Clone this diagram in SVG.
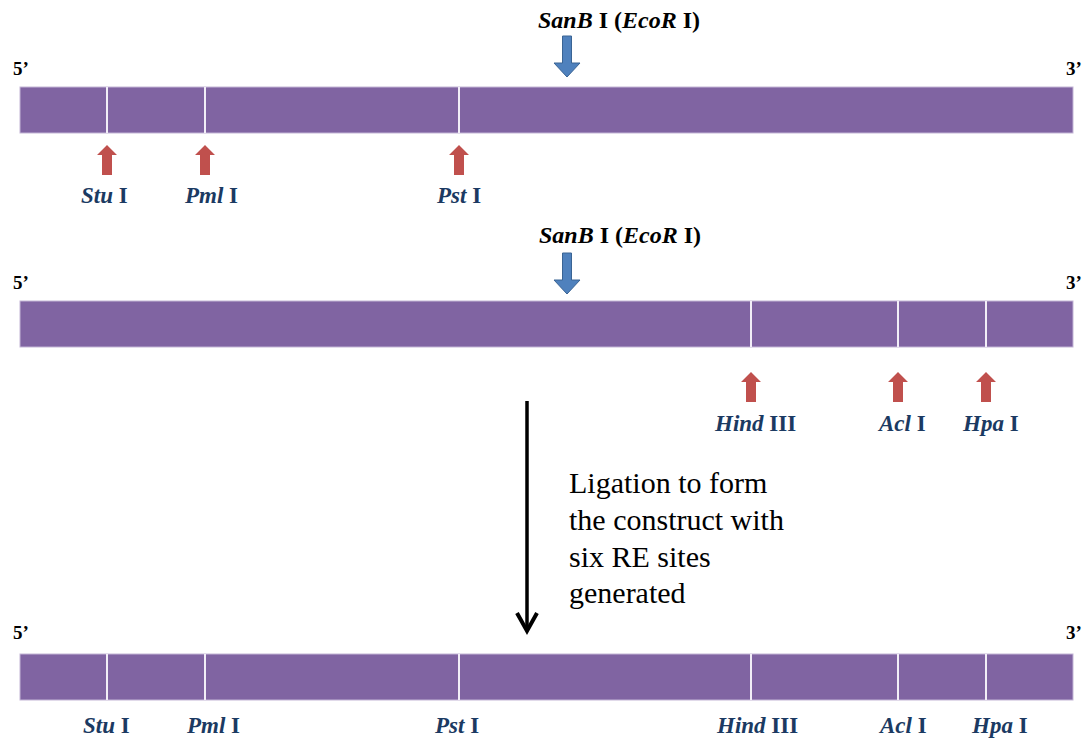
<svg xmlns="http://www.w3.org/2000/svg" width="1088" height="738" viewBox="0 0 1088 738" font-family="'Liberation Serif', 'DejaVu Serif', serif">
  <style>
    .bar { fill: #8064A2; stroke: #C3B5D6; stroke-width: 1; }
    .div { stroke: #F2EEF7; stroke-width: 2; }
    .end { font-weight: bold; font-size: 19px; fill: #000; }
    .re { font-weight: bold; font-size: 23px; fill: #1B3A62; }
    .san { font-weight: bold; font-size: 24px; fill: #000; }
    .it { font-style: italic; }
    .red { fill: #C0504D; }
    .blue { fill: #4F81BD; stroke: #3A6494; stroke-width: 1; }
    .note { font-size: 30px; fill: #000; }
  </style>
  <defs>
    <path id="upArrow" class="red" d="M0,0 L10,10 L5,10 L5,30 L-5,30 L-5,10 L-10,10 Z"/>
  </defs>

  <!-- Row 1 -->
  <g id="strand1">
    <text class="end" font-family="Liberation Serif" x="13" y="75">5’</text>
    <text class="end" font-family="Liberation Serif" x="1066" y="75">3’</text>
    <rect class="bar" x="20" y="87" width="1053" height="46"/>
    <line class="div" x1="107" y1="87" x2="107" y2="133"/>
    <line class="div" x1="205" y1="87" x2="205" y2="133"/>
    <line class="div" x1="459" y1="87" x2="459" y2="133"/>
  </g>
  <g id="sanb1">
    <text class="san" font-family="Liberation Serif" x="538" y="28"><tspan class="it">SanB</tspan> I (<tspan class="it">EcoR</tspan> I)</text>
    <path class="blue" d="M562.5,36 L571.5,36 L571.5,63 L580,63 L567,77 L554,63 L562.5,63 Z"/>
  </g>
  <g id="sites1">
    <use href="#upArrow" x="107" y="145"/>
    <use href="#upArrow" x="205" y="145"/>
    <use href="#upArrow" x="459" y="145"/>
    <text class="re" font-family="Liberation Serif" x="81" y="203"><tspan class="it">Stu</tspan> I</text>
    <text class="re" font-family="Liberation Serif" x="185" y="203"><tspan class="it">Pml</tspan> I</text>
    <text class="re" font-family="Liberation Serif" x="437" y="203"><tspan class="it">Pst</tspan> I</text>
  </g>

  <!-- Row 2 -->
  <g id="strand2">
    <text class="end" font-family="Liberation Serif" x="13" y="289">5’</text>
    <text class="end" font-family="Liberation Serif" x="1066" y="289">3’</text>
    <rect class="bar" x="20" y="301" width="1053" height="46"/>
    <line class="div" x1="751" y1="301" x2="751" y2="347"/>
    <line class="div" x1="898" y1="301" x2="898" y2="347"/>
    <line class="div" x1="986" y1="301" x2="986" y2="347"/>
  </g>
  <g id="sanb2">
    <text class="san" font-family="Liberation Serif" x="539" y="243"><tspan class="it">SanB</tspan> I (<tspan class="it">EcoR</tspan> I)</text>
    <path class="blue" d="M562.5,253 L571.5,253 L571.5,280 L580,280 L567,294 L554,280 L562.5,280 Z"/>
  </g>
  <g id="sites2">
    <use href="#upArrow" x="751" y="372"/>
    <use href="#upArrow" x="898" y="372"/>
    <use href="#upArrow" x="986" y="372"/>
    <text class="re" font-family="Liberation Serif" x="715" y="431"><tspan class="it">Hind</tspan> III</text>
    <text class="re" font-family="Liberation Serif" x="879" y="431"><tspan class="it">Acl</tspan> I</text>
    <text class="re" font-family="Liberation Serif" x="963" y="431"><tspan class="it">Hpa</tspan> I</text>
  </g>

  <!-- Ligation -->
  <g id="connectors">
    <line x1="527" y1="401" x2="527" y2="630" stroke="#000" stroke-width="3.5"/>
    <polyline points="517,613 527,631 537,613" fill="none" stroke="#000" stroke-width="4" stroke-linejoin="miter"/>
  </g>
  <g id="ligation-note" font-family="Liberation Serif">
    <text class="note" x="569" y="493">Ligation to form</text>
    <text class="note" x="569" y="530">the construct with</text>
    <text class="note" x="569" y="567">six RE sites</text>
    <text class="note" x="569" y="603">generated</text>
  </g>

  <!-- Row 3 -->
  <g id="strand3">
    <text class="end" font-family="Liberation Serif" x="13" y="639">5’</text>
    <text class="end" font-family="Liberation Serif" x="1066" y="639">3’</text>
    <rect class="bar" x="20" y="654" width="1053" height="46"/>
    <line class="div" x1="107" y1="654" x2="107" y2="700"/>
    <line class="div" x1="205" y1="654" x2="205" y2="700"/>
    <line class="div" x1="459" y1="654" x2="459" y2="700"/>
    <line class="div" x1="751" y1="654" x2="751" y2="700"/>
    <line class="div" x1="898" y1="654" x2="898" y2="700"/>
    <line class="div" x1="986" y1="654" x2="986" y2="700"/>
  </g>
  <g id="sites3" font-family="Liberation Serif">
    <text class="re" x="83" y="733"><tspan class="it">Stu</tspan> I</text>
    <text class="re" x="187" y="733"><tspan class="it">Pml</tspan> I</text>
    <text class="re" x="435" y="733"><tspan class="it">Pst</tspan> I</text>
    <text class="re" x="717" y="733"><tspan class="it">Hind</tspan> III</text>
    <text class="re" x="880" y="733"><tspan class="it">Acl</tspan> I</text>
    <text class="re" x="972" y="733"><tspan class="it">Hpa</tspan> I</text>
  </g>
</svg>
